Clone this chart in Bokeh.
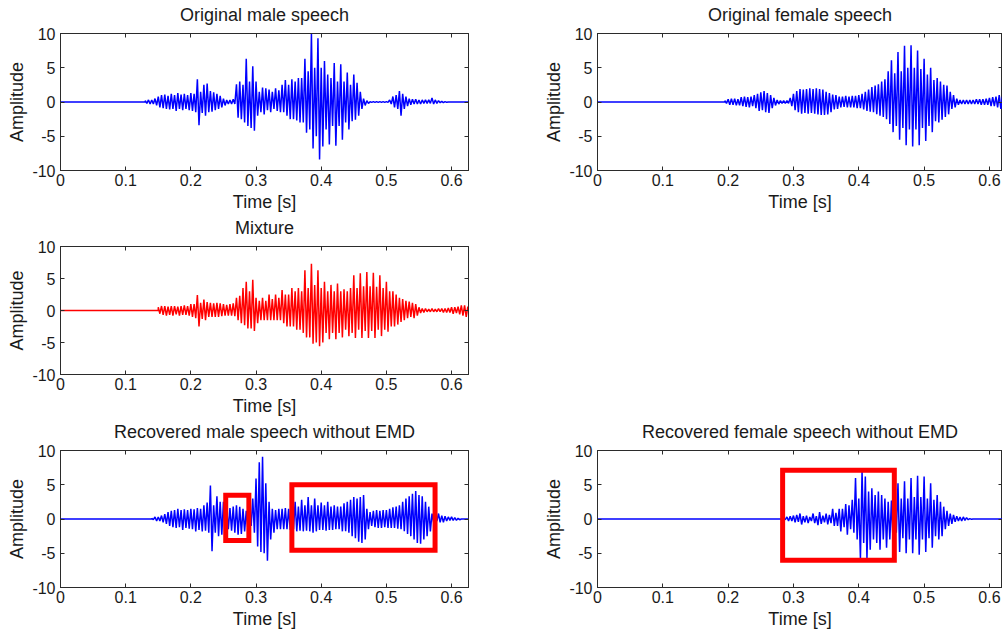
import numpy as np
from bokeh.plotting import figure
from bokeh.models import Range1d, LinearAxis, FixedTicker, PrintfTickFormatter
from bokeh.layouts import column, row
from bokeh.embed import file_html
from bokeh.resources import INLINE

# ---------------- data ----------------
# Each signal: local maxima (hi) and minima (lo) every DT seconds from its start time
DT = 0.005
x_ticks = [0, 0.1, 0.2, 0.3, 0.4, 0.5, 0.6]
y_ticks = [-10, -5, 0, 5, 10]

male_start = 0.13
male_hi = [0.2, 0.3, 0.3, 0.5, 0.8, 1.0, 1.1, 0.9, 1.2, 1.0, 1.3, 1.1, 1.2, 1.0, 1.3, 1.2,
           3.3, 1.5, 2.5, 2.7, 1.6, 1.4, 1.2, 0.9, 0.5, 0.3, 0.3, 0.4, 2.6, 3.0, 2.5, 6.3,
           3.0, 5.2, 3.0, 1.5, 2.1, 2.0, 1.8, 1.5, 2.0, 1.7, 2.5, 3.2, 2.5, 3.3, 3.0, 3.5,
           3.5, 6.3, 4.5, 10.0, 5.0, 9.3, 5.0, 6.0, 4.0, 3.5, 5.7, 3.0, 5.5, 3.0, 4.3, 2.5,
           4.0, 2.8, 1.5, 0.5, 0.2, 0.05, 0.05, 0.05, 0.05, 0.05, 0.05, 0.3, 0.8, 1.0, 1.6, 1.2,
           0.8, 0.5, 0.4, 0.4, 0.3, 0.3, 0.3, 0.3, 0.6, 0.3, 0.2, 0.1, 0.05]
male_lo = [-0.2, -0.3, -0.3, -0.5, -0.8, -0.9, -1.0, -1.1, -1.0, -1.3, -1.0, -1.2, -1.0, -1.2, -1.3, -1.5,
           -3.4, -1.6, -2.0, -1.5, -1.4, -1.2, -1.0, -0.8, -0.5, -0.3, -0.3, -0.3, -2.3, -2.5, -3.0, -3.5,
           -3.8, -4.2, -2.0, -1.5, -1.8, -1.2, -1.5, -1.0, -1.3, -1.5, -1.5, -2.0, -2.5, -2.5, -2.7, -3.0,
           -3.0, -4.5, -4.0, -6.8, -5.0, -8.4, -6.5, -4.0, -6.2, -3.5, -6.4, -3.5, -5.5, -3.0, -4.0, -2.8,
           -2.6, -2.0, -1.0, -0.5, -0.2, -0.05, -0.05, -0.05, -0.05, -0.05, -0.05, -0.3, -0.8, -1.0, -2.0, -1.0,
           -0.6, -0.4, -0.3, -0.3, -0.3, -0.2, -0.2, -0.2, -0.3, -0.2, -0.1, -0.1, -0.05]

female_start = 0.195
female_hi = [0.2, 0.4, 0.5, 0.5, 0.4, 0.7, 0.8, 0.7, 0.8, 1.0, 1.2, 1.4, 1.6, 1.3, 1.0, 0.6,
             0.3, 0.2, 0.2, 0.2, 0.6, 1.2, 1.6, 1.9, 1.8, 1.9, 2.0, 1.9, 2.0, 1.9, 1.8, 1.5,
             1.3, 1.1, 1.0, 0.8, 0.8, 0.9, 0.8, 0.9, 0.9, 1.0, 1.2, 1.5, 1.8, 2.2, 2.4, 2.6,
             3.0, 3.3, 4.5, 6.1, 4.2, 7.3, 4.5, 8.2, 5.0, 8.3, 5.0, 7.5, 4.8, 6.3, 4.0, 5.0,
             3.2, 3.5, 3.0, 2.5, 2.4, 1.5, 1.0, 0.5, 0.3, 0.3, 0.3, 0.3, 0.3, 0.4, 0.4, 0.4,
             0.5, 0.6, 0.7, 0.8, 1.0, 0.8, 0.6]
female_lo = [-0.2, -0.4, -0.4, -0.5, -0.5, -0.6, -0.7, -0.8, -0.6, -0.9, -1.3, -1.2, -1.5, -1.6, -0.9, -0.5,
             -0.3, -0.2, -0.2, -0.2, -0.6, -1.2, -1.5, -1.7, -1.6, -1.7, -1.6, -1.7, -1.8, -1.9, -1.9, -1.8,
             -1.5, -1.1, -1.0, -0.8, -0.7, -0.8, -0.8, -0.8, -0.9, -0.9, -1.1, -1.3, -1.4, -1.5, -1.8, -2.0,
             -2.2, -2.5, -3.2, -4.4, -3.5, -5.5, -3.8, -6.3, -4.0, -6.5, -4.0, -6.3, -3.8, -5.7, -3.5, -4.4,
             -2.8, -3.0, -2.6, -2.2, -1.8, -1.0, -0.8, -0.4, -0.3, -0.3, -0.3, -0.3, -0.3, -0.3, -0.4, -0.4,
             -0.4, -0.6, -0.6, -0.8, -1.0, -0.9, -0.6]

mix_start = 0.15
mix_hi = [0.5, 0.7, 0.7, 0.6, 0.7, 0.7, 0.6, 0.7, 0.8, 0.7, 1.0, 1.0, 2.4, 1.2, 1.7, 1.3,
          1.2, 1.1, 1.2, 1.1, 1.0, 0.9, 1.0, 1.1, 2.0, 2.3, 3.5, 4.5, 3.0, 4.8, 2.0, 1.5,
          2.0, 1.5, 2.5, 1.8, 2.5, 2.0, 3.2, 2.5, 2.5, 3.5, 3.0, 3.5, 3.0, 6.3, 3.5, 7.3,
          4.0, 6.3, 3.5, 4.5, 3.0, 4.0, 3.0, 4.2, 3.0, 3.3, 3.0, 3.5, 5.5, 3.5, 5.8, 3.8,
          6.0, 3.8, 5.9, 3.7, 5.5, 3.5, 4.5, 3.0, 3.0, 2.5, 2.0, 1.8, 1.5, 1.4, 1.2, 1.0,
          0.5, 0.3, 0.3, 0.2, 0.3, 0.2, 0.3, 0.3, 0.3, 0.4, 0.5, 0.5, 0.6, 0.8, 0.8, 0.6]
mix_lo = [-0.5, -0.7, -0.8, -0.7, -0.8, -0.6, -0.8, -0.7, -0.7, -0.8, -1.0, -1.2, -2.5, -1.3, -1.5, -1.0,
          -1.0, -1.0, -1.0, -0.9, -0.8, -0.8, -0.8, -0.9, -1.5, -2.0, -2.3, -2.8, -2.8, -3.2, -2.0, -1.5,
          -1.5, -1.5, -1.5, -1.5, -1.5, -1.5, -2.0, -2.5, -2.5, -2.5, -3.0, -3.0, -3.5, -4.2, -4.2, -5.2,
          -5.0, -5.6, -5.0, -3.5, -4.5, -3.5, -4.5, -3.5, -4.2, -3.0, -4.0, -3.5, -4.3, -3.0, -4.3, -3.2,
          -4.3, -3.2, -4.3, -3.0, -4.0, -3.0, -3.3, -2.5, -2.5, -2.2, -1.8, -1.5, -1.2, -1.0, -1.2, -0.8,
          -0.4, -0.3, -0.2, -0.2, -0.2, -0.2, -0.2, -0.3, -0.3, -0.3, -0.5, -0.4, -0.6, -0.8, -1.0, -0.6]

rmale_start = 0.14
rmale_hi = [0.1, 0.3, 0.3, 0.5, 0.7, 1.0, 1.2, 1.3, 1.5, 1.3, 1.4, 1.3, 1.5, 1.4, 1.6, 1.5,
            2.0, 2.4, 4.9, 2.0, 3.3, 2.5, 2.5, 1.5, 1.6, 1.8, 2.0, 1.8, 1.5, 1.2, 1.0, 3.0,
            5.9, 8.3, 9.1, 5.2, 2.5, 1.5, 1.3, 1.5, 1.5, 1.6, 1.5, 1.8, 2.5, 1.8, 2.8, 2.0,
            3.2, 2.0, 3.0, 2.0, 2.4, 2.0, 2.5, 1.8, 2.0, 1.8, 1.8, 2.3, 2.5, 2.8, 3.2, 3.0,
            3.2, 3.5, 1.5, 1.0, 1.2, 1.3, 1.2, 1.3, 1.3, 1.5, 1.7, 1.8, 2.0, 2.5, 3.0, 3.3,
            3.7, 4.1, 3.5, 3.3, 2.5, 1.8, 0.8, 0.3, 0.8, 0.5, 0.4, 0.3, 0.3, 0.2, 0.1]
rmale_lo = [-0.1, -0.3, -0.3, -0.5, -0.7, -1.0, -1.2, -1.3, -1.2, -1.6, -1.3, -1.4, -1.5, -1.8, -1.6, -1.8,
            -1.7, -2.0, -4.7, -2.0, -2.5, -2.3, -2.5, -1.5, -1.7, -2.0, -2.3, -2.2, -1.8, -1.5, -1.0, -2.0,
            -4.0, -4.8, -5.0, -6.1, -3.0, -2.0, -1.5, -1.5, -1.5, -1.5, -1.6, -1.5, -1.8, -1.7, -1.8, -1.7,
            -1.8, -2.0, -1.8, -1.6, -1.6, -1.7, -1.6, -1.6, -1.5, -1.5, -1.8, -1.8, -2.0, -2.5, -2.8, -3.3,
            -3.5, -3.0, -1.5, -1.0, -1.2, -1.3, -1.3, -1.2, -1.3, -1.3, -1.3, -1.4, -1.5, -1.8, -2.2, -2.5,
            -3.0, -3.5, -3.6, -3.0, -2.5, -1.8, -0.5, -0.3, -0.5, -0.5, -0.3, -0.2, -0.2, -0.2, -0.1]

rfemale_start = 0.285
rfemale_hi = [0.1, 0.3, 0.4, 0.5, 0.6, 0.8, 0.4, 0.5, 0.3, 0.8, 0.4, 1.0, 0.5, 0.8, 0.6, 1.5,
              0.9, 1.5, 1.5, 2.2, 2.0, 2.8, 6.0, 3.0, 7.0, 6.2, 4.0, 4.5, 3.5, 4.0, 3.5, 3.0,
              2.5, 2.7, 2.0, 5.2, 3.0, 5.5, 3.0, 6.0, 3.2, 6.3, 3.2, 6.2, 3.0, 5.2, 2.8, 3.5,
              2.5, 1.8, 1.2, 0.8, 0.6, 0.4, 0.3, 0.3, 0.2, 0.05]
rfemale_lo = [-0.1, -0.3, -0.3, -0.5, -0.4, -0.8, -0.5, -0.6, -0.3, -0.6, -0.9, -0.7, -0.5, -0.8, -0.6, -1.0,
              -1.0, -1.8, -1.2, -2.3, -1.5, -2.0, -3.0, -5.8, -3.5, -5.8, -4.5, -3.0, -3.5, -4.5, -3.0, -4.2,
              -3.0, -3.5, -2.0, -4.8, -2.8, -5.0, -3.0, -5.0, -3.0, -5.2, -3.0, -4.8, -2.8, -4.2, -2.5, -3.0,
              -2.5, -1.5, -1.0, -0.7, -0.4, -0.3, -0.3, -0.2, -0.1, -0.05]

# highlight rectangles (time [s], amplitude)
rmale_box_left = [0.2535, 0.355]
rmale_box_right = [0.289, 0.5747]
rmale_box_bottom = [-3.13, -4.58]
rmale_box_top = [3.47, 5.01]
rfemale_box_left = [0.2834]
rfemale_box_right = [0.4544]
rfemale_box_bottom = [-6.02]
rfemale_box_top = [7.13]

# ---------------- styling ----------------
FONT = "Liberation Sans"
AX = "#2b2b2b"
TXT = "#1a1a1a"
LEFT_XMAX = 0.626
RIGHT_XMAX = 0.62
WAVE_W = 1.5


def trace(start, hi, lo, xmax):
    n = len(hi)
    t = start + DT * np.arange(n)
    x = np.empty(2 * n)
    y = np.empty(2 * n)
    x[0::2] = t
    x[1::2] = t + DT / 2
    y[0::2] = hi
    y[1::2] = lo
    x = np.concatenate([[0.0, start], x, [x[-1] + DT / 2, xmax]])
    y = np.concatenate([[0.0, 0.0], y, [0.0, 0.0]])
    return x, y


def panel(title, xmax, bl, fw, br, bt, fh, bb):
    p = figure(width=bl + fw + br, height=bt + fh + bb,
               x_range=Range1d(0, xmax), y_range=Range1d(-10, 10),
               output_backend="svg", toolbar_location=None,
               min_border_left=bl, min_border_right=br,
               min_border_top=bt, min_border_bottom=bb)
    p.grid.visible = False
    p.outline_line_color = AX
    p.outline_line_width = 1
    p.background_fill_color = "white"
    p.border_fill_color = "white"

    for ax in (p.xaxis[0], p.yaxis[0]):
        ax.major_tick_in = 4
        ax.major_tick_out = 0
        ax.minor_tick_line_color = None
        ax.axis_line_color = AX
        ax.major_tick_line_color = AX
        ax.major_label_text_font = FONT
        ax.major_label_text_font_size = "16px"
        ax.major_label_text_color = TXT
        ax.axis_label_text_font = FONT
        ax.axis_label_text_font_size = "18px"
        ax.axis_label_text_font_style = "normal"
        ax.axis_label_text_color = TXT
    p.xaxis.ticker = FixedTicker(ticks=x_ticks)
    p.xaxis.major_label_overrides = {0: "0"}
    p.xaxis.axis_label = "Time [s]"
    p.xaxis.major_label_standoff = 3
    p.xaxis.axis_label_standoff = 3
    p.yaxis.ticker = FixedTicker(ticks=y_ticks)
    p.yaxis.formatter = PrintfTickFormatter(format="%d")
    p.yaxis.axis_label = "Amplitude"
    p.yaxis.major_label_standoff = 5
    p.yaxis.axis_label_standoff = 2

    # top axis: inward ticks, no tick labels, carries the panel title
    top = LinearAxis(ticker=FixedTicker(ticks=x_ticks), major_tick_in=4, major_tick_out=0,
                     minor_tick_line_color=None, axis_line_color=AX, major_tick_line_color=AX,
                     major_label_text_font_size="0px", major_label_standoff=0,
                     axis_label=title, axis_label_text_font=FONT, axis_label_text_font_size="18px",
                     axis_label_text_font_style="normal", axis_label_text_color=TXT,
                     axis_label_standoff=9)
    right = LinearAxis(ticker=FixedTicker(ticks=y_ticks), major_tick_in=4, major_tick_out=0,
                       minor_tick_line_color=None, axis_line_color=AX, major_tick_line_color=AX,
                       major_label_text_font_size="0px", major_label_standoff=0)
    p.add_layout(top, "above")
    p.add_layout(right, "right")
    return p


# geometry (canvas pixels)
LB, LF, LR = 60, 408, 10
RB, RF, RR = 119, 405, 0

p1 = panel("Original male speech", LEFT_XMAX, LB, LF, LR, 33, 137, 44)
x, y = trace(male_start, male_hi, male_lo, LEFT_XMAX)
p1.line(x, y, line_color="#0000ff", line_width=WAVE_W)

p2 = panel("Original female speech", RIGHT_XMAX, RB, RF, RR, 33, 137, 44)
x, y = trace(female_start, female_hi, female_lo, RIGHT_XMAX)
p2.line(x, y, line_color="#0000ff", line_width=WAVE_W)

p3 = panel("Mixture", LEFT_XMAX, LB, LF, LR, 31, 129, 44)
x, y = trace(mix_start, mix_hi, mix_lo, LEFT_XMAX)
p3.line(x, y, line_color="#ff0000", line_width=WAVE_W)

p5 = panel("Recovered male speech without EMD", LEFT_XMAX, LB, LF, LR, 31, 138, 44)
x, y = trace(rmale_start, rmale_hi, rmale_lo, LEFT_XMAX)
p5.line(x, y, line_color="#0000ff", line_width=WAVE_W)
p5.quad(left=rmale_box_left, right=rmale_box_right, bottom=rmale_box_bottom, top=rmale_box_top,
        fill_color=None, line_color="#ff0000", line_width=5, line_join="miter")

p6 = panel("Recovered female speech without EMD", RIGHT_XMAX, RB, RF, RR, 31, 138, 44)
x, y = trace(rfemale_start, rfemale_hi, rfemale_lo, RIGHT_XMAX)
p6.line(x, y, line_color="#0000ff", line_width=WAVE_W)
p6.quad(left=rfemale_box_left, right=rfemale_box_right, bottom=rfemale_box_bottom, top=rfemale_box_top,
        fill_color=None, line_color="#ff0000", line_width=5, line_join="miter")

layout = column(row(p1, p2), row(p3), row(p5, p6))
open("out.html", "w").write(file_html(layout, INLINE))
